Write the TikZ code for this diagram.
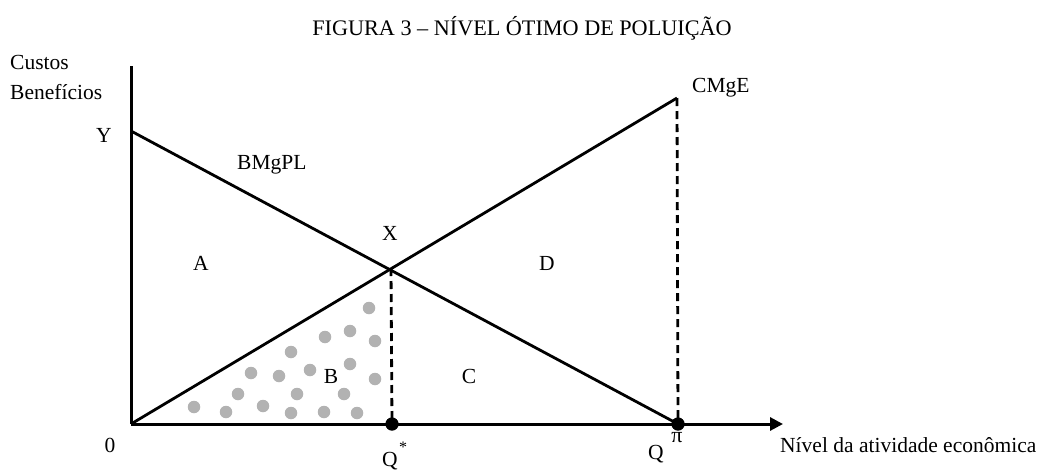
\documentclass[tikz,border=0pt]{standalone}
\usepackage{fontspec}
\setmainfont{Liberation Serif}
\usetikzlibrary{arrows.meta}
\begin{document}
\begin{tikzpicture}[x=1pt,y=-1pt,
  lbl/.style={inner sep=0pt,font=\fontsize{21.5}{24}\selectfont},
  curve/.style={line width=2.8pt},
  axisline/.style={line width=3pt},
  dashline/.style={line width=2.8pt,dash pattern=on 8pt off 5pt},
  dotpt/.style={circle,fill=black,inner sep=0pt,minimum size=13pt},
  spot/.style={circle,fill=gray!60,inner sep=0pt,minimum size=12.5pt}]
\useasboundingbox (0,0) rectangle (1044,469);
% key points
\coordinate (O) at (131,424);
\coordinate (Ytop) at (131,66);
\coordinate (Yp) at (131,131);
\coordinate (Xend) at (783,424);
\coordinate (Xp) at (391,268);
\coordinate (Ctop) at (677,98);
\node[dotpt] (Qs) at (392,424) {};
\node[dotpt] (Qp) at (678,424) {};
% dots of area B
\foreach \i/\x/\y in {1/194/407,2/226/412,3/238/394,4/251/373,5/263/406,6/279/376,7/291/352,8/297/394,9/291/413,10/310/370,11/325/337,12/324/412,13/344/394,14/350/331,15/350/364,16/357/413,17/369/308,18/375/341,19/375/379}
  \node[spot] (s\i) at (\x,\y) {};
% axes
\draw[axisline] (Ytop) -- (O);
\draw[axisline,-{Triangle[length=13pt,width=13pt]}] (O) -- (Xend);
% curves
\draw[curve] (Yp) -- (Qp.center);
\draw[curve] (O) -- (Ctop);
% dashed
\draw[dashline] (Xp) -- (Qs.center);
\draw[dashline] (Ctop) -- (Qp.center);
\node[dotpt] at (Qs) {};
\node[dotpt] at (Qp) {};
% texts
\node[lbl,anchor=base,font=\fontsize{22.2}{25}\selectfont] (title) at (522,35) {FIGURA 3 – NÍVEL ÓTIMO DE POLUIÇÃO};
\node[lbl,anchor=base west] (custos) at (10,69) {Custos};
\node[lbl,anchor=base west] (benef) at (10,99) {Benefícios};
\node[lbl,anchor=base] (ylbl) at (104,142) {Y};
\node[lbl,anchor=base west] (bmg) at (237,169) {BMgPL};
\node[lbl,anchor=base] (xlbl) at (390,240) {X};
\node[lbl,anchor=base] (alb) at (201,270) {A};
\node[lbl,anchor=base] (dlb) at (547,270) {D};
\node[lbl,anchor=base west] (cmg) at (692,92) {CMgE};
\node[lbl,anchor=base] (blb) at (331,383) {B};
\node[lbl,anchor=base] (clb) at (469,383) {C};
\node[lbl,anchor=base] (zero) at (110,452) {0};
\node[lbl,anchor=base] (qs) at (390,466) {Q};
\node[lbl,anchor=base,font=\fontsize{16}{18}\selectfont] (star) at (403,452) {*};
\node[lbl,anchor=base] (qp) at (656,459) {Q};
\node[lbl,anchor=base,font=\fontsize{22}{24}\selectfont] (pi) at (677,442) {π};
\node[lbl,anchor=base west] (nivel) at (780,452) {Nível da atividade econômica};
\end{tikzpicture}
\end{document}
